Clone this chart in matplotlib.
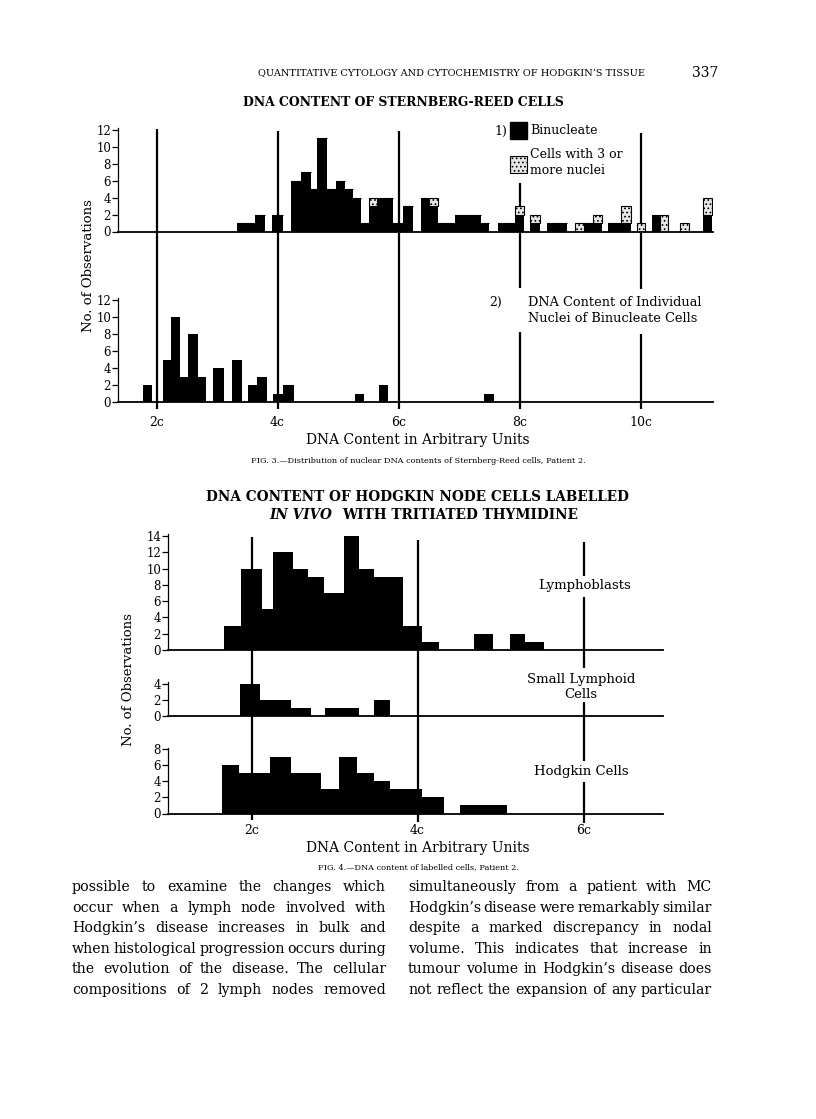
import matplotlib
matplotlib.use("Agg")
import matplotlib.pyplot as plt
from matplotlib.patches import Rectangle
from matplotlib.transforms import blended_transform_factory

W, H = 816, 1119

# Fig. 3, panel 1: Sternberg-Reed cells (class edges in DNA units, counts)
sr_lo = [3.33, 3.48, 3.63, 3.91, 4.23, 4.39, 4.55, 4.65, 4.82, 4.96, 5.12, 5.25, 5.38,
         5.51, 5.64, 5.78, 5.91, 6.07, 6.37, 6.51, 6.645, 6.79, 6.94, 7.08, 7.22, 7.36,
         7.64, 7.78, 7.92, 8.17, 8.455, 8.62, 8.92, 9.07, 9.21, 9.47, 9.68, 9.935,
         10.19, 10.325, 10.66, 11.035]
sr_hi = [3.48, 3.63, 3.80, 4.09, 4.39, 4.55, 4.65, 4.82, 4.96, 5.12, 5.25, 5.38, 5.51,
         5.64, 5.78, 5.91, 6.07, 6.24, 6.51, 6.645, 6.79, 6.94, 7.08, 7.22, 7.36, 7.50,
         7.78, 7.92, 8.08, 8.34, 8.62, 8.78, 9.07, 9.21, 9.37, 9.68, 9.84, 10.07,
         10.325, 10.46, 10.80, 11.18]
sr_binuc = [1, 1, 2, 2, 6, 7, 5, 11, 5, 6, 5, 4, 1,
            3, 4, 4, 1, 3, 4, 3, 1, 1, 2, 2, 2, 1,
            1, 1, 2, 1, 1, 1, 0, 1, 1, 1, 1, 0,
            2, 0, 0, 2]
sr_multi = [0, 0, 0, 0, 0, 0, 0, 0, 0, 0, 0, 0, 0,
            1, 0, 0, 0, 0, 0, 1, 0, 0, 0, 0, 0, 0,
            0, 0, 1, 1, 0, 0, 1, 0, 1, 0, 2, 1,
            0, 2, 1, 2]

# Fig. 3, panel 2: individual nuclei of binucleate cells
nuc_lo = [1.77, 2.11, 2.24, 2.39, 2.52, 2.68, 2.94, 3.24, 3.51, 3.66, 3.92, 4.09, 5.28, 5.67, 7.42]
nuc_hi = [1.92, 2.24, 2.39, 2.52, 2.68, 2.82, 3.11, 3.41, 3.66, 3.83, 4.09, 4.28, 5.43, 5.83, 7.58]
nuc_n = [2, 5, 10, 3, 8, 3, 4, 5, 2, 3, 1, 2, 1, 2, 1]

# Fig. 4: labelled cells
lb_lo = [1.67, 1.87, 2.125, 2.26, 2.50, 2.68, 2.87, 3.11, 3.30, 3.48, 3.83, 4.06, 4.68, 5.11, 5.30]
lb_hi = [1.87, 2.125, 2.26, 2.50, 2.68, 2.87, 3.11, 3.30, 3.48, 3.83, 4.06, 4.26, 4.91, 5.30, 5.53]
lb_n = [3, 10, 5, 12, 10, 9, 7, 14, 10, 9, 3, 1, 2, 2, 1]

sl_lo = [1.86, 2.10, 2.47, 2.89, 3.47]
sl_hi = [2.10, 2.47, 2.72, 3.30, 3.67]
sl_n = [4, 2, 1, 1, 2]

hd_lo = [1.65, 1.85, 2.22, 2.48, 2.84, 3.05, 3.27, 3.47, 3.67, 4.06, 4.51]
hd_hi = [1.85, 2.22, 2.48, 2.84, 3.05, 3.27, 3.47, 3.67, 4.06, 4.32, 5.08]
hd_n = [6, 5, 7, 5, 3, 7, 5, 4, 3, 2, 1]

fig3_ticks = [2, 4, 6, 8, 10]
fig4_ticks = [2, 4, 6]

left_col = [
    "possible to examine the changes which",
    "occur when a lymph node involved with",
    "Hodgkin’s disease increases in bulk and",
    "when histological progression occurs during",
    "the evolution of the disease.  The cellular",
    "compositions of 2 lymph nodes removed",
]
right_col = [
    "simultaneously from a patient with MC",
    "Hodgkin’s disease were remarkably similar",
    "despite a marked discrepancy in nodal",
    "volume.  This indicates that increase in",
    "tumour volume in Hodgkin’s disease does",
    "not reflect the expansion of any particular",
]

plt.rcParams["font.family"] = "DejaVu Serif"
plt.rcParams["hatch.linewidth"] = 0.7

fig = plt.figure(figsize=(W / 100, H / 100), dpi=100)
fig.patch.set_facecolor("white")

page = fig.add_axes([0, 0, 1, 1])
page.set_xlim(0, W)
page.set_ylim(H, 0)
page.axis("off")


def px_axes(x0, y0, x1, y1):
    return fig.add_axes([x0 / W, 1 - y1 / H, (x1 - x0) / W, (y1 - y0) / H])


def panel(x0, x1, y_zero, y_top, xlim, ytop, yticks):
    ax = px_axes(x0, y_top, x1, y_zero)
    ax.set_xlim(*xlim)
    ax.set_ylim(0, ytop)
    ax.patch.set_visible(False)
    ax.spines[["top", "right"]].set_visible(False)
    ax.spines["bottom"].set_linewidth(1.3)
    ax.spines["left"].set_linewidth(0.9)
    ax.set_xticks([])
    ax.set_yticks(yticks)
    ax.tick_params(axis="y", direction="out", length=4, width=0.9, pad=1, labelsize=8.5)
    return ax


def bars(ax, lo, hi, n, bottom=None, **kw):
    widths = [h - l for l, h in zip(lo, hi)]
    ax.bar(lo, n, width=widths, bottom=bottom, align="edge", **kw)


def vline(ax, x, spans, lw=1.6):
    trans = blended_transform_factory(ax.transData, page.transData)
    for y0, y1 in spans:
        page.plot([x, x], [y0, y1], color="black", lw=lw, transform=trans,
                  solid_capstyle="butt", clip_on=False)


def justify(line, x0, x1, y, size):
    words = line.split()
    r = fig.canvas.get_renderer()
    texts = [page.text(0, y, w, fontsize=size, va="baseline", ha="left") for w in words]
    widths = [t.get_window_extent(r).width for t in texts]
    gap = (x1 - x0 - sum(widths)) / (len(words) - 1)
    x = x0
    for t, w in zip(texts, widths):
        t.set_x(x)
        x += w + gap


# ---- page header ----
page.text(258, 73, "QUANTITATIVE CYTOLOGY AND CYTOCHEMISTRY OF HODGKIN’S TISSUE",
          fontsize=7.0, ha="left", va="center")
page.text(718, 73, "337", fontsize=10, ha="right", va="center")

# ---- Fig. 3 ----
page.text(403, 103, "DNA CONTENT OF STERNBERG-REED CELLS", fontsize=8.9,
          fontweight="bold", ha="center", va="center")

u3 = lambda px: 2 + (px - 156.5) / 60.5
ax1 = panel(118, 713, 231.5, 231.5 - 12.2 * 8.46, (u3(118), u3(713)), 12.2, range(0, 13, 2))
bars(ax1, sr_lo, sr_hi, sr_binuc, color="black", linewidth=0)
bars(ax1, sr_lo, sr_hi, sr_multi, bottom=sr_binuc, facecolor="#e6e6e6",
     edgecolor="black", hatch="....", linewidth=0.8)

ax2 = panel(118, 713, 402.3, 402.3 - 12.2 * 8.52, (u3(118), u3(713)), 12.2, range(0, 13, 2))
bars(ax2, nuc_lo, nuc_hi, nuc_n, color="black", linewidth=0)

for x, spans in zip(fig3_ticks, [[(129, 409)], [(131, 409)], [(131, 409)],
                                 [(183, 288), (332, 409)], [(133, 289), (334, 409)]]):
    vline(ax1, x, spans)
for x in fig3_ticks:
    page.text(156.5 + (x - 2) * 60.5, 422, f"{x}c", fontsize=9, ha="center", va="center")

page.text(88, 266, "No. of Observations", rotation=90, fontsize=9.5, ha="center", va="center")
page.text(418, 440, "DNA Content in Arbitrary Units", fontsize=10, ha="center", va="center")
page.text(418, 461, "FIG. 3.—Distribution of nuclear DNA contents of Sternberg-Reed cells, Patient 2.",
          fontsize=5.9, ha="center", va="center")

# legend
page.text(501, 131, "1)", fontsize=9, ha="center", va="center")
page.add_patch(Rectangle((510, 122), 17, 17, facecolor="black", edgecolor="black"))
page.text(530, 131, "Binucleate", fontsize=9, ha="left", va="center")
page.add_patch(Rectangle((510, 156), 17, 17, facecolor="#e6e6e6", edgecolor="black",
                         hatch="....", linewidth=0.8))
page.text(530, 155, "Cells with 3 or", fontsize=9, ha="left", va="center")
page.text(530, 171, "more nuclei", fontsize=9, ha="left", va="center")
page.text(496, 302, "2)", fontsize=9, ha="center", va="center")
page.text(528, 302, "DNA Content of Individual", fontsize=9.3, ha="left", va="center")
page.text(528, 319, "Nuclei of Binucleate Cells", fontsize=9.3, ha="left", va="center")

# ---- Fig. 4 ----
page.text(418, 497, "DNA CONTENT OF HODGKIN NODE CELLS LABELLED", fontsize=9.8,
          fontweight="bold", ha="center", va="center")
page.text(332, 515, "IN VIVO", fontsize=9.8, fontweight="bold", fontstyle="italic",
          ha="right", va="center")
page.text(342, 515, "WITH TRITIATED THYMIDINE", fontsize=9.8, fontweight="bold",
          ha="left", va="center")

u4 = lambda px: 2 + (px - 251.5) / 83
xl4 = (u4(168), u4(663))
ax3 = panel(168, 663, 650, 650 - 14.2 * 8.14, xl4, 14.2, range(0, 15, 2))
bars(ax3, lb_lo, lb_hi, lb_n, color="black", linewidth=0)
ax4 = panel(168, 663, 716, 716 - 4.2 * 8.0, xl4, 4.2, [0, 2, 4])
bars(ax4, sl_lo, sl_hi, sl_n, color="black", linewidth=0)
ax5 = panel(168, 663, 813.5, 813.5 - 8.2 * 8.03, xl4, 8.2, range(0, 9, 2))
bars(ax5, hd_lo, hd_hi, hd_n, color="black", linewidth=0)

for x, spans in zip(fig4_ticks, [[(537, 820)], [(540, 822)],
                                 [(542, 576), (597, 668), (702, 761), (782, 823)]]):
    vline(ax3, x, spans)
for x in fig4_ticks:
    page.text(251.5 + (x - 2) * 83, 831, f"{x}c", fontsize=9, ha="center", va="center")

page.text(585, 586, "Lymphoblasts", fontsize=9.5, ha="center", va="center")
page.text(581, 679, "Small Lymphoid", fontsize=9.5, ha="center", va="center")
page.text(581, 694, "Cells", fontsize=9.5, ha="center", va="center")
page.text(581, 772, "Hodgkin Cells", fontsize=9.5, ha="center", va="center")

page.text(128, 680, "No. of Observations", rotation=90, fontsize=9.5, ha="center", va="center")
page.text(418, 848, "DNA Content in Arbitrary Units", fontsize=10, ha="center", va="center")
page.text(418, 867, "FIG. 4.—DNA content of labelled cells, Patient 2.",
          fontsize=5.9, ha="center", va="center")

# ---- body text ----
for i, line in enumerate(left_col):
    justify(line, 72, 386, 891 + i * 20.6, 10.2)
for i, line in enumerate(right_col):
    justify(line, 408, 712, 891 + i * 20.6, 10.2)

fig.savefig("out.png", dpi=100)
